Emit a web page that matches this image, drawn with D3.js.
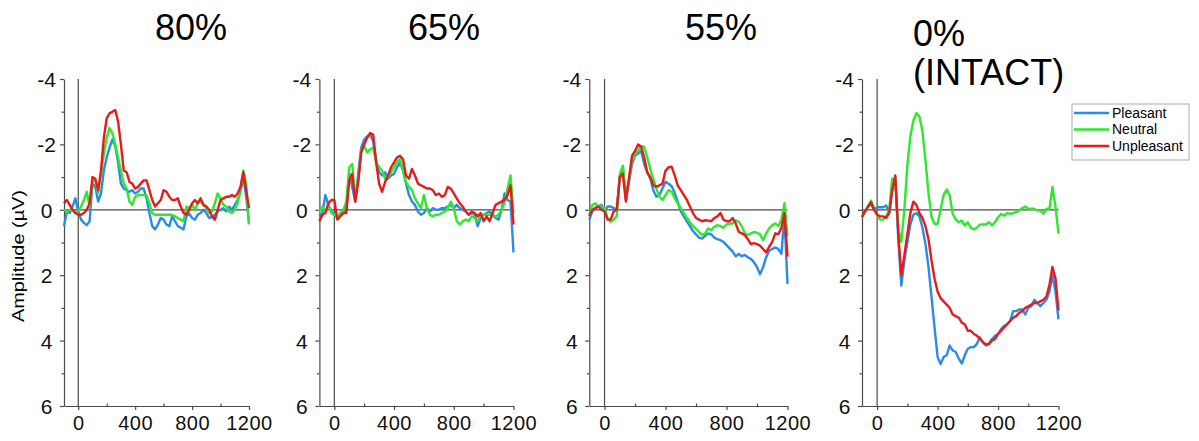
<!DOCTYPE html>
<html>
<head>
<meta charset="utf-8">
<script src="https://cdn.jsdelivr.net/npm/d3@7"></script>
<style>
  body { margin: 0; background: #fff; }
  svg { display: block; font-family: "Liberation Sans", Arial, sans-serif; }
</style>
</head>
<body>
<svg id="chart" width="1199" height="441"></svg>
<script>
// time points (ms)
const times = [-100,-80,-60,-40,-20,0,20,40,60,80,100,120,140,160,180,200,220,240,260,280,300,
  320,340,360,380,400,420,440,460,480,500,520,540,560,580,600,620,640,660,680,700,720,740,760,
  780,800,820,840,860,880,900,920,940,960,980,1000,1020,1040,1060,1080,1100,1120,1140,1160,1180,1200];

const seriesNames = ["Pleasant", "Neutral", "Unpleasant"];
const seriesColors = ["#2b8be8", "#2ee82e", "#e81a1a"];

const yTicks = [-4, -2, 0, 2, 4, 6];
const yMinor = [-3, -1, 1, 3, 5];
const xTicks = [0, 400, 800, 1200];
const xMinor = [200, 600, 1000];

// 80%
const pleasant80 = [0.5,0.05,0.1,-0.1,-0.35,0.05,0.3,0.4,0.47,0.35,-0.8,-0.7,-0.25,-0.5,-1.2,-1.6,-1.9,-2.15,-1.95,-1.45,-0.8,
  -0.65,-0.6,-0.55,-0.6,-0.5,-0.55,-0.65,-0.65,-0.35,0.1,0.5,0.6,0.45,0.25,0.3,0.45,0.5,0.2,0.35,0.5,0.55,0.6,0.2,
  0.12,0.25,0.3,0.15,0.1,0.0,0.1,0.25,0.22,0.15,0.05,0.0,-0.05,0.05,-0.1,0.0,-0.15,-0.3,-0.55,-1.0,-0.4,0.4];
const neutral80 = [0.0,0.05,0.0,0.0,0.1,0.05,-0.1,-0.3,-0.55,-0.1,-0.9,-0.9,-0.5,-1.1,-1.7,-2.2,-2.5,-2.35,-2.0,-1.6,-1.2,
  -0.8,-0.65,-0.25,-0.15,-0.4,-0.45,-0.45,-0.45,-0.45,-0.2,0.1,0.15,0.15,0.15,0.15,0.15,0.15,0.15,0.2,0.25,0.3,0.35,-0.1,
  -0.05,-0.15,0.0,-0.2,-0.25,-0.15,-0.05,0.1,0.05,-0.2,-0.5,-0.35,-0.15,-0.1,0.05,0.1,0.0,-0.2,-0.6,-1.2,-0.8,0.45];
const unpleasant80 = [-0.2,-0.3,-0.15,0.0,0.1,0.15,0.15,0.1,0.0,-0.2,-1.0,-0.95,-0.6,-1.2,-2.2,-2.8,-2.95,-3.0,-3.05,-2.7,-2.0,
  -1.2,-1.15,-0.85,-0.8,-0.65,-0.7,-0.8,-0.9,-0.9,-0.6,-0.3,-0.1,-0.2,-0.3,-0.6,-0.55,-0.4,-0.3,-0.3,-0.35,-0.1,0.1,0.15,
  0.0,-0.2,-0.3,-0.2,-0.35,-0.15,-0.1,0.0,0.2,0.3,0.0,-0.3,-0.35,-0.4,-0.4,-0.45,-0.4,-0.5,-0.7,-1.15,-0.6,-0.05];

// 65%
const pleasant65 = [0.2,0.1,-0.45,-0.15,0.05,0.15,0.25,0.15,0.1,0.0,-1.1,-0.7,-0.25,-1.1,-1.9,-2.15,-2.25,-2.3,-2.1,-1.5,-1.15,
  -1.05,-1.15,-0.95,-1.05,-1.1,-1.3,-1.45,-1.2,-0.8,-0.45,-0.25,-0.15,0.05,0.15,0.1,-0.05,0.05,-0.05,0.0,0.0,-0.05,-0.05,-0.1,
  -0.15,-0.05,-0.15,-0.05,0.0,0.05,0.15,0.1,0.15,0.5,0.25,0.15,0.1,0.05,0.15,0.25,0.3,0.0,-0.5,-0.3,-0.25,1.3];
const neutral65 = [0.05,-0.1,0.05,-0.15,0.1,0.15,0.2,0.1,0.0,-0.25,-1.3,-1.4,-0.35,-0.9,-1.8,-1.95,-1.75,-1.85,-1.9,-1.45,-1.3,
  -1.2,-0.95,-1.0,-1.15,-1.3,-1.45,-1.55,-1.2,-0.85,-0.7,-0.6,-0.35,-0.2,-0.05,-0.45,-0.05,0.15,0.2,0.15,0.15,0.1,0.05,-0.05,
  -0.25,-0.05,0.35,0.45,0.35,0.3,0.35,0.2,0.25,0.35,0.15,0.15,0.15,0.15,0.2,0.2,0.15,0.0,-0.2,-0.65,-1.05,0.1];
const unpleasant65 = [0.35,0.15,0.1,-0.2,-0.3,-0.3,0.3,0.2,0.1,0.1,-0.9,-1.1,-0.25,-0.85,-1.75,-2.0,-2.2,-2.35,-2.3,-1.45,-0.8,
  -0.55,-0.85,-1.05,-1.3,-1.45,-1.6,-1.65,-1.55,-1.05,-0.95,-1.25,-1.05,-0.8,-0.75,-0.7,-0.65,-0.65,-0.6,-0.45,-0.5,-0.4,-0.45,-0.7,
  -0.65,-0.5,-0.35,-0.2,-0.1,0.05,0.15,0.05,0.1,0.2,0.1,0.35,0.2,0.35,0.1,-0.15,-0.2,-0.25,-0.3,-0.45,-0.75,0.45];

// 55%
const pleasant55 = [0.3,0.05,-0.05,-0.1,-0.15,0.05,-0.1,-0.1,-0.05,0.0,-1.0,-1.3,-0.3,-0.85,-1.4,-1.65,-1.72,-1.8,-1.4,-1.15,-0.95,
  -0.6,-0.4,-0.45,-0.65,-0.86,-0.8,-0.72,-0.52,-0.25,0.05,0.2,0.35,0.5,0.65,0.75,0.85,0.88,0.8,0.72,0.75,0.85,0.9,0.93,
  0.98,1.08,1.18,1.28,1.42,1.35,1.42,1.38,1.45,1.5,1.6,1.75,1.97,1.75,1.45,1.25,1.2,1.15,1.2,1.35,0.2,2.27];
const neutral55 = [0.15,-0.15,-0.2,-0.1,-0.1,-0.05,0.25,0.37,0.3,0.2,-1.1,-1.35,-0.4,-0.95,-1.5,-1.7,-1.8,-1.95,-1.92,-1.6,-1.25,
  -0.95,-0.65,-0.4,-0.3,-0.45,-0.6,-0.55,-0.35,-0.2,-0.05,0.1,0.25,0.38,0.5,0.58,0.68,0.77,0.72,0.57,0.62,0.52,0.47,0.5,
  0.55,0.45,0.42,0.42,0.32,0.37,0.5,0.72,0.77,0.72,0.68,0.7,0.75,0.93,0.72,0.57,0.47,0.42,0.5,0.3,-0.2,0.8];
const unpleasant55 = [0.2,0.0,-0.05,-0.1,0.0,0.05,0.3,0.3,0.05,0.0,-1.0,-1.1,-0.25,-0.95,-1.65,-1.8,-2.0,-1.93,-1.6,-1.15,-1.0,
  -0.75,-0.7,-0.75,-0.8,-1.2,-1.3,-1.32,-1.05,-0.75,-0.6,-0.45,-0.3,-0.1,0.1,0.25,0.3,0.35,0.32,0.33,0.35,0.25,0.2,0.1,
  0.3,0.35,0.35,0.25,0.42,0.67,0.72,0.77,0.9,1.05,1.02,1.05,1.1,1.2,1.3,1.13,0.98,0.72,0.75,0.55,0.1,1.43];

// 0% (intact)
const pleasant0 = [0.22,0.05,-0.1,-0.18,0.0,-0.08,-0.08,-0.08,-0.13,0.1,-0.6,-1.0,0.9,2.32,1.55,1.0,0.45,0.15,0.1,0.2,0.55,
  1.05,1.75,2.67,3.6,4.5,4.72,4.5,4.45,4.15,4.3,4.35,4.55,4.7,4.45,4.25,4.2,4.2,4.1,3.9,4.05,4.15,4.1,3.95,
  3.85,3.8,3.65,3.55,3.5,3.4,3.1,3.1,3.05,3.05,3.2,3.0,2.95,2.75,2.85,2.95,2.85,2.75,2.5,2.0,2.5,3.35];
const neutral0 = [0.22,0.05,-0.1,-0.28,-0.05,0.15,0.3,0.3,0.2,0.0,-0.95,-0.9,0.6,0.98,0.0,-1.35,-2.25,-2.73,-2.96,-2.85,-2.4,
  -1.5,-0.5,0.22,0.43,0.43,0.0,-0.45,-0.62,-0.45,0.12,0.3,0.38,0.33,0.48,0.38,0.55,0.6,0.55,0.45,0.45,0.45,0.38,0.48,
  0.38,0.23,0.13,0.18,0.1,0.12,0.1,0.07,0.02,-0.05,-0.1,-0.03,-0.03,-0.03,0.02,0.02,0.12,-0.03,-0.03,-0.7,-0.1,0.73];
const unpleasant0 = [0.22,0.05,-0.1,-0.23,0.0,0.15,0.2,0.2,0.25,0.1,-0.6,-1.05,0.7,2.0,1.4,0.75,0.1,-0.25,-0.15,0.1,0.25,
  0.5,0.9,1.55,2.1,2.5,2.7,2.8,2.9,3.0,3.2,3.25,3.3,3.45,3.5,3.7,3.7,3.8,3.85,3.95,4.05,4.12,4.1,4.0,
  3.95,3.8,3.7,3.6,3.5,3.4,3.3,3.25,3.15,3.1,3.0,2.95,2.9,2.85,2.85,2.8,2.75,2.65,2.3,1.75,2.1,3.08];

const panelTitles = [["80%"], ["65%"], ["55%"], ["0%", "(INTACT)"]];
const panelSeries = [
  [pleasant80, neutral80, unpleasant80],
  [pleasant65, neutral65, unpleasant65],
  [pleasant55, neutral55, unpleasant55],
  [pleasant0, neutral0, unpleasant0]
];

// layout
const panelX = [[64, 249], [319.4, 513.5], [589.3, 787.5], [862, 1058.5]];
const titleX = [191, 444, 721, 913];
const plotTop = 79, plotBottom = 406;
const axisColor = "#4a4a4a";

const svg = d3.select("#chart");

const y = d3.scaleLinear().domain([-4, 6]).range([plotTop, plotBottom]);

panelSeries.forEach(function(series, p) {
  const x = d3.scaleLinear().domain([-100, 1200]).range(panelX[p]);
  const g = svg.append("g");

  // title
  const titleLines = panelTitles[p];
  if (titleLines.length == 1) {
    g.append("text")
      .attr("x", titleX[p])
      .attr("y", 40)
      .attr("text-anchor", "middle")
      .style("font-size", "36px")
      .text(titleLines[0]);
  } else {
    titleLines.forEach(function(t, i) {
      g.append("text")
        .attr("x", titleX[p])
        .attr("y", 46 + i * 39)
        .style("font-size", "36px")
        .text(t);
    });
  }

  // zero line and stimulus onset line
  g.append("line")
    .attr("x1", x(-100)).attr("x2", x(1200))
    .attr("y1", y(0)).attr("y2", y(0))
    .attr("stroke", axisColor).attr("stroke-width", 1.2);
  g.append("line")
    .attr("x1", x(0)).attr("x2", x(0))
    .attr("y1", y(-4)).attr("y2", y(6))
    .attr("stroke", axisColor).attr("stroke-width", 1.2);

  // y axis
  const yAxis = g.append("g")
    .attr("transform", "translate(" + x(-100) + ",0)")
    .call(d3.axisLeft(y).tickValues(yTicks).tickSize(4).tickSizeOuter(0));
  g.append("g")
    .attr("transform", "translate(" + x(-100) + ",0)")
    .call(d3.axisLeft(y).tickValues(yMinor).tickSize(2.5).tickSizeOuter(0).tickFormat(""))
    .select(".domain").remove();
  yAxis.selectAll("text")
    .attr("x", -17.5)
    .attr("text-anchor", "middle")
    .attr("dy", "0.36em")
    .style("font-size", "21px")
    .text(function(d) { return d < 0 ? "-" + Math.abs(d) : d; });

  // x axis
  const xAxis = g.append("g")
    .attr("transform", "translate(0," + y(6) + ")")
    .call(d3.axisBottom(x).tickValues(xTicks).tickSize(4).tickSizeOuter(0).tickFormat(d3.format("d")));
  g.append("g")
    .attr("transform", "translate(0," + y(6) + ")")
    .call(d3.axisTop(x).tickValues(xMinor).tickSize(2.5).tickSizeOuter(0).tickFormat(""))
    .select(".domain").remove();
  xAxis.selectAll("text")
    .attr("y", 10)
    .attr("dy", "0.71em")
    .style("font-size", "20px")
    .style("letter-spacing", "0.5px");

  g.selectAll(".domain, .tick line")
    .attr("stroke", axisColor).attr("stroke-width", 1.2);
  g.selectAll(".tick text").attr("fill", "#111");

  if (p == 0) {
    g.append("text")
      .attr("transform", "translate(24,256) rotate(-90)")
      .attr("text-anchor", "middle")
      .attr("textLength", 132)
      .attr("lengthAdjust", "spacingAndGlyphs")
      .style("font-size", "16px")
      .text("Amplitude (\u00b5V)");
  }

  // waveforms
  const line = d3.line()
    .x(function(d, i) { return x(times[i]); })
    .y(function(d) { return y(d); });

  g.selectAll("path.wave")
    .data(series)
    .enter()
    .append("path")
    .attr("class", "wave")
    .attr("d", line)
    .attr("fill", "none")
    .attr("stroke", function(d, i) { return seriesColors[i]; })
    .attr("stroke-width", 2.4)
    .attr("stroke-linejoin", "round");
});

// legend
const legend = svg.append("g").attr("transform", "translate(1072,104)");
legend.append("rect")
  .attr("width", 117).attr("height", 56)
  .attr("fill", "#fff").attr("stroke", "#aaa").attr("stroke-width", 1);
legend.selectAll("g.item")
  .data(seriesNames)
  .enter()
  .append("g")
  .attr("class", "item")
  .attr("transform", function(d, i) { return "translate(0," + (9 + i * 16.5) + ")"; })
  .each(function(d, i) {
    d3.select(this).append("line")
      .attr("x1", 2).attr("x2", 37)
      .attr("stroke", seriesColors[i]).attr("stroke-width", 2.4);
    d3.select(this).append("text")
      .attr("x", 40).attr("dy", "0.35em")
      .style("font-size", "14px")
      .text(d);
  });
</script>
</body>
</html>
